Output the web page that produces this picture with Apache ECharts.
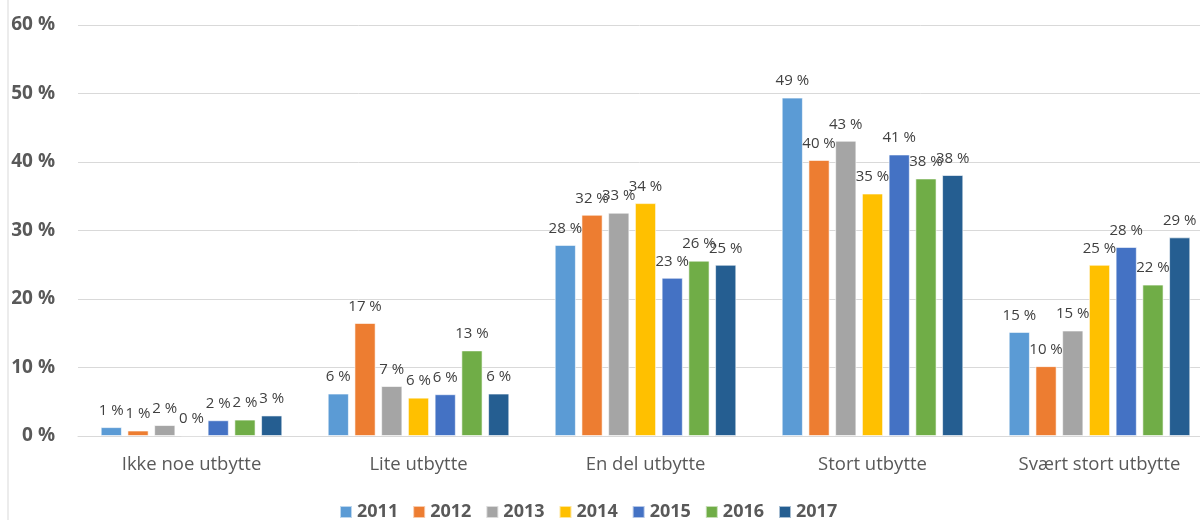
<!DOCTYPE html>
<html>
<head>
<meta charset="utf-8">
<script src="https://cdn.jsdelivr.net/npm/echarts@6/dist/echarts.min.js"></script>
<style>
  html, body { margin: 0; padding: 0; background: #fff; }
  #chart { width: 1200px; height: 520px; }
</style>
</head>
<body>
<div id="chart"></div>
<script>
// Utbytte per år (andel i prosent)
const categories = ['Ikke noe utbytte', 'Lite utbytte', 'En del utbytte', 'Stort utbytte', 'Svært stort utbytte'];
const years = ['2011', '2012', '2013', '2014', '2015', '2016', '2017'];
const v2011 = [1.3, 6.2, 27.9, 49.4, 15.2];
const v2012 = [0.8, 16.5, 32.3, 40.3, 10.2];
const v2013 = [1.6, 7.3, 32.6, 43.1, 15.4];
const v2014 = [0.1, 5.6, 34.0, 35.4, 25.0];
const v2015 = [2.3, 6.1, 23.1, 41.1, 27.6];
const v2016 = [2.4, 12.5, 25.6, 37.6, 22.1];
const v2017 = [3.0, 6.2, 25.0, 38.1, 29.0];
const yTicks = [0, 10, 20, 30, 40, 50, 60];

const seriesValues = [v2011, v2012, v2013, v2014, v2015, v2016, v2017];
const colors = ['#5B9BD5', '#ED7D31', '#A5A5A5', '#FFC000', '#4472C4', '#70AD47', '#255E91'];

const chart = echarts.init(document.getElementById('chart'), null, { renderer: 'canvas' });

const series = years.map((y, i) => ({
  name: y,
  type: 'bar',
  data: seriesValues[i],
  barGap: '26%',
  barCategoryGap: '20%',
  itemStyle: { color: colors[i], borderColor: 'rgba(255,255,255,0.6)', borderWidth: 1 },
  label: {
    show: true,
    position: 'top',
    distance: 9,
    color: '#404040',
    fontSize: 15,
    fontFamily: 'Open Sans',
    formatter: p => Math.round(p.value) + ' %'
  },
  emphasis: { disabled: true }
}));

chart.setOption({
  animation: false,
  color: colors,
  grid: { left: 78, top: 25, width: 1135, bottom: 84, containLabel: false, outerBoundsMode: 'none' },
  graphic: [{
    type: 'line',
    shape: { x1: 8, y1: 0, x2: 8, y2: 520 },
    style: { stroke: '#d9d9d9', lineWidth: 1 }
  }],
  legend: {
    data: years,
    left: 339,
    top: 502,
    padding: 0,
    itemWidth: 12,
    itemHeight: 12,
    itemGap: 14,
    icon: 'rect',
    textStyle: { color: '#595959', fontSize: 18, lineHeight: 20, fontWeight: 'bold', fontFamily: 'Open Sans' }
  },
  xAxis: {
    type: 'category',
    data: categories,
    axisLine: { lineStyle: { color: '#d9d9d9', width: 1 } },
    axisTick: { show: false },
    axisLabel: { color: '#595959', fontSize: 18.5, fontFamily: 'Open Sans', margin: 19 }
  },
  yAxis: {
    type: 'value',
    min: yTicks[0],
    max: yTicks[yTicks.length - 1],
    interval: 10,
    axisLine: { show: false },
    axisTick: { show: false },
    splitLine: { lineStyle: { color: '#d9d9d9', width: 1 } },
    axisLabel: {
      color: '#595959',
      fontSize: 19,
      fontWeight: 'bold',
      fontFamily: 'Open Sans',
      margin: 23,
      formatter: v => v + ' %'
    }
  },
  series: series
});
</script>
</body>
</html>
